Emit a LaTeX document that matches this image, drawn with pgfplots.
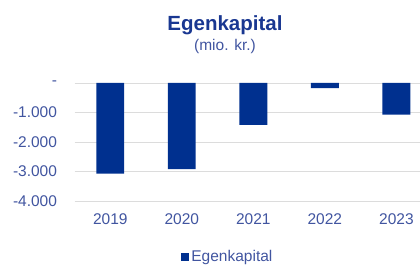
\documentclass[border=0pt]{standalone}
\usepackage{pgfplots}
\pgfplotsset{compat=1.18}
\usepackage{fontspec}
\setmainfont{Liberation Sans}
\definecolor{barblue}{RGB}{0,48,143}
\definecolor{titleblue}{RGB}{25,55,145}
\definecolor{tickblue}{RGB}{65,85,160}
\definecolor{gridgray}{RGB}{220,220,220}
\begin{document}
\begin{tikzpicture}[x=1pt,y=1pt]
\begin{axis}[
  at={(74.5pt,66pt)}, anchor=south west,
  scale only axis, width=345.5pt, height=118pt,
  xmin=-0.5, xmax=4.33, ymin=-4000, ymax=0,
  ybar, bar width=0.39,
  axis line style={draw=none},
  major tick length=0pt,
  ymajorgrids, grid style={gridgray, line width=0.8pt},
  xtick={0,1,2,3,4}, xticklabels={2019,2020,2021,2022,2023},
  ytick={-4000,-3000,-2000,-1000,0},
  yticklabels={-4.000,-3.000,-2.000,-1.000,-},
  /pgf/number format/assume math mode=true,
  tick label style={font=\fontsize{15.5}{17}\selectfont, text=tickblue},
  yticklabel style={anchor=east, xshift=-14pt},
  xticklabel style={anchor=north, yshift=-9pt},
  legend style={at={(0.444,-0.475)}, anchor=center, draw=none, fill=none,
    font=\fontsize{15.5}{17}\selectfont, text=tickblue},
  legend image code/.code={\fill[barblue] (0pt,-4pt) rectangle (8pt,4pt);},
]
\addplot[fill=barblue, draw=none] coordinates {(0,-3070) (1,-2920) (2,-1420) (3,-170) (4,-1070)};
\addlegendentry{Egenkapital}
\end{axis}
\node[font=\bfseries\fontsize{20.5}{22}\selectfont, text=titleblue] at (225pt,242pt) {Egenkapital};
\node[font=\fontsize{15.5}{17}\selectfont, text=tickblue] at (225pt,221pt) {(mio. kr.)};
\pgfresetboundingbox
\useasboundingbox (0,0) rectangle (420pt,267pt);
\end{tikzpicture}
\end{document}
